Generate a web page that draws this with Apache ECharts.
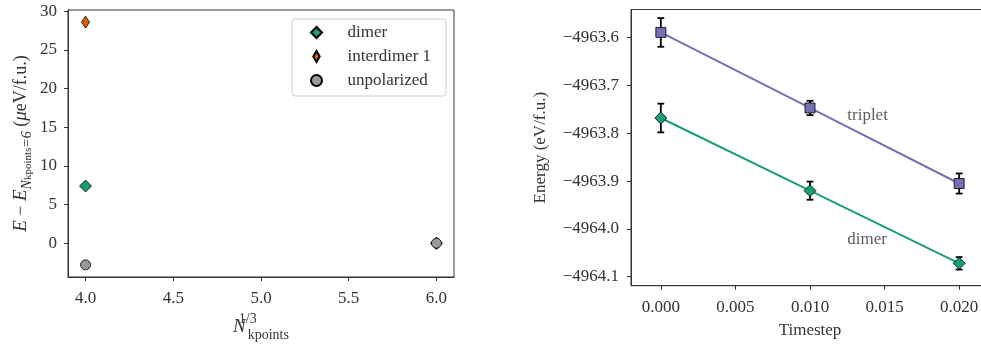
<!DOCTYPE html>
<html>
<head>
<meta charset="utf-8">
<script src="https://cdn.jsdelivr.net/npm/echarts@6/dist/echarts.min.js"></script>
<style>
  html, body { margin: 0; padding: 0; background: #fff; }
  #chart { width: 981px; height: 344px; }
</style>
</head>
<body>
<div id="chart"></div>
<script>
// left panel: k-point convergence
const kpts = [4, 6];
const dimerK = [7.4, 0];
const interdimerK = [28.6, 0];
const unpolK = [-2.8, 0];
const kptTicks = [4, 4.5, 5, 5.5, 6];
const kEnergyTicks = [0, 5, 10, 15, 20, 25, 30];

// right panel: timestep extrapolation
const timesteps = [0, 0.01, 0.02];
const tripletE = [-4963.589, -4963.747, -4963.905];
const tripletErr = [0.030, 0.015, 0.021];
const dimerE = [-4963.768, -4963.920, -4964.072];
const dimerErr = [0.030, 0.019, 0.013];
const timestepTicks = [0, 0.005, 0.01, 0.015, 0.02];
const energyTicks = [-4963.6, -4963.7, -4963.8, -4963.9, -4964.0, -4964.1];
const annotations = [
  { name: 'triplet', x: 0.0125, y: -4963.762 },
  { name: 'dimer', x: 0.0125, y: -4964.023 }
];

const FONT = '"Liberation Serif", "DejaVu Serif", serif';
const INK = '#333';
const GREEN = '#1b9e77', ORANGE = '#d95f02', GREY = '#999999', PURPLE = '#7570b3';

const zip = (xs, ys) => xs.map((x, i) => [x, ys[i]]);
const minus = s => s.replace('-', '\u2212');

function axisBase(ticks, fmt, margin) {
  return {
    axisLine: { show: true, onZero: false, lineStyle: { color: INK, width: 1 } },
    axisTick: { show: true, customValues: ticks, length: 4, lineStyle: { color: INK } },
    axisLabel: { customValues: ticks, formatter: fmt, margin: margin, color: INK, fontFamily: FONT, fontSize: 17 },
    splitLine: { show: false },
    nameTextStyle: { color: INK, fontFamily: FONT, fontSize: 17 }
  };
}

function errorBars(name, xs, ys, errs) {
  return {
    name: name, type: 'custom', xAxisIndex: 1, yAxisIndex: 1, z: 3,
    data: xs.map((x, i) => [x, ys[i], errs[i]]),
    renderItem: function (params, api) {
      const x = api.value(0), y = api.value(1), e = api.value(2);
      const lo = api.coord([x, y - e]);
      const hi = api.coord([x, y + e]);
      const cap = 3.4;
      const st = { stroke: '#000', lineWidth: 1.8 };
      return {
        type: 'group',
        children: [
          { type: 'line', shape: { x1: lo[0], y1: lo[1], x2: hi[0], y2: hi[1] }, style: st },
          { type: 'line', shape: { x1: lo[0] - cap, y1: lo[1], x2: lo[0] + cap, y2: lo[1] }, style: st },
          { type: 'line', shape: { x1: hi[0] - cap, y1: hi[1], x2: hi[0] + cap, y2: hi[1] }, style: st }
        ]
      };
    }
  };
}

const chart = echarts.init(document.getElementById('chart'), null, { renderer: 'canvas' });

const option = {
  animation: false,
  textStyle: { fontFamily: FONT },
  grid: [
    { left: 68, top: 10, width: 386, height: 267, show: true, borderColor: INK, borderWidth: 1, outerBoundsMode: 'none', containLabel: false },
    { left: 631, top: 9.5, right: -8, bottom: 58.3, show: true, borderColor: INK, borderWidth: 1, outerBoundsMode: 'none', containLabel: false }
  ],
  legend: {
    left: 292, top: 19,
    orient: 'vertical',
    data: [
      { name: 'dimer', icon: 'path://M5,0 L10,5 L5,10 L0,5 Z' },
      { name: 'interdimer 1', icon: 'path://M3.5,0 L7,6 L3.5,12 L0,6 Z' },
      { name: 'unpolarized', icon: 'circle' }
    ],
    itemWidth: 40, itemHeight: 11, itemGap: 7,
    padding: [5, 15, 7, 18],
    borderColor: '#cccccc', borderWidth: 1, borderRadius: 3,
    backgroundColor: 'rgba(255,255,255,0.8)',
    textStyle: { color: INK, fontFamily: FONT, fontSize: 17, lineHeight: 17, padding: [0, 0, 0, 6] }
  },
  xAxis: [
    Object.assign(axisBase(kptTicks, v => v.toFixed(1), 13), {
      type: 'value', gridIndex: 0, min: 3.9, max: 6.1,
      name: '{n|N}{sup|1/3}{sub|kpoints}', nameLocation: 'middle', nameGap: 27,
      nameTextStyle: {
        color: INK, fontFamily: FONT, fontSize: 17,
        rich: {
          n: { fontFamily: FONT, fontStyle: 'italic', fontSize: 19, color: INK, lineHeight: 30, verticalAlign: 'middle' },
          sup: { fontFamily: FONT, fontSize: 14, color: INK, width: 0, lineHeight: 14, verticalAlign: 'top', padding: [0, 0, 0, 2] },
          sub: { fontFamily: FONT, fontSize: 14, color: INK, lineHeight: 12, verticalAlign: 'bottom' }
        }
      }
    }),
    Object.assign(axisBase(timestepTicks, v => v.toFixed(3), 13), {
      type: 'value', gridIndex: 1, min: -0.002, max: 0.022,
      name: 'Timestep', nameLocation: 'middle', nameGap: 36
    })
  ],
  yAxis: [
    Object.assign(axisBase(kEnergyTicks, v => minus(String(v)), 11), {
      type: 'value', gridIndex: 0, min: -4.37, max: 30.17,
      name: '{it|E} \u2212 {it|E}{s|N}{ss|kpoints}{s|=6} ({it|\u03bc}eV/f.u.)',
      nameLocation: 'middle', nameRotate: 90, nameGap: 34,
      nameTextStyle: {
        color: INK, fontFamily: FONT, fontSize: 18,
        rich: {
          it: { fontFamily: FONT, fontStyle: 'italic', fontSize: 19, color: INK, lineHeight: 26, verticalAlign: 'middle' },
          s: { fontFamily: FONT, fontStyle: 'italic', fontSize: 14, color: INK, lineHeight: 13, verticalAlign: 'bottom' },
          ss: { fontFamily: FONT, fontSize: 11, color: INK, lineHeight: 6, verticalAlign: 'bottom' }
        }
      }
    }),
    Object.assign(axisBase(energyTicks, v => minus(v.toFixed(1)), 12), {
      type: 'value', gridIndex: 1, min: -4964.1188, max: -4963.541,
      name: 'Energy (eV/f.u.)', nameLocation: 'middle', nameRotate: 90, nameGap: 82
    })
  ],
  series: [
    {
      name: 'dimer', type: 'scatter', xAxisIndex: 0, yAxisIndex: 0, z: 3,
      symbol: 'diamond', symbolSize: 12,
      itemStyle: { color: GREEN, borderColor: '#000', borderWidth: 0.8, opacity: 1 },
      data: zip(kpts, dimerK)
    },
    {
      name: 'interdimer 1', type: 'scatter', xAxisIndex: 0, yAxisIndex: 0, z: 4,
      symbol: 'diamond', symbolSize: [8, 12],
      itemStyle: { color: ORANGE, borderColor: '#000', borderWidth: 0.8, opacity: 1 },
      data: zip(kpts, interdimerK)
    },
    {
      name: 'unpolarized', type: 'scatter', xAxisIndex: 0, yAxisIndex: 0, z: 5,
      symbol: 'circle', symbolSize: 10,
      itemStyle: { color: GREY, borderColor: '#000', borderWidth: 0.8, opacity: 1 },
      data: zip(kpts, unpolK)
    },
    {
      name: 'triplet line', type: 'line', xAxisIndex: 1, yAxisIndex: 1, z: 2,
      showSymbol: false, symbol: 'none',
      lineStyle: { color: PURPLE, width: 2 },
      data: zip(timesteps, tripletE)
    },
    {
      name: 'dimer line', type: 'line', xAxisIndex: 1, yAxisIndex: 1, z: 2,
      showSymbol: false, symbol: 'none',
      lineStyle: { color: GREEN, width: 2 },
      data: zip(timesteps, dimerE)
    },
    errorBars('triplet err', timesteps, tripletE, tripletErr),
    errorBars('dimer err', timesteps, dimerE, dimerErr),
    {
      name: 'triplet points', type: 'scatter', xAxisIndex: 1, yAxisIndex: 1, z: 6,
      symbol: 'rect', symbolSize: 10,
      itemStyle: { color: PURPLE, borderColor: '#000', borderWidth: 0.8, opacity: 1 },
      data: zip(timesteps, tripletE)
    },
    {
      name: 'dimer points', type: 'scatter', xAxisIndex: 1, yAxisIndex: 1, z: 6,
      symbol: 'diamond', symbolSize: 12,
      itemStyle: { color: GREEN, borderColor: '#000', borderWidth: 0.8, opacity: 1 },
      data: zip(timesteps, dimerE)
    },
    {
      name: 'labels', type: 'scatter', xAxisIndex: 1, yAxisIndex: 1, z: 7,
      symbolSize: 0, silent: true,
      data: annotations.map(a => ({ name: a.name, value: [a.x, a.y] })),
      label: {
        show: true, position: [0, 0], align: 'left', verticalAlign: 'middle',
        formatter: p => p.name, color: INK, fontFamily: FONT, fontSize: 17
      }
    }
  ]
};

chart.setOption(option);
</script>
</body>
</html>
